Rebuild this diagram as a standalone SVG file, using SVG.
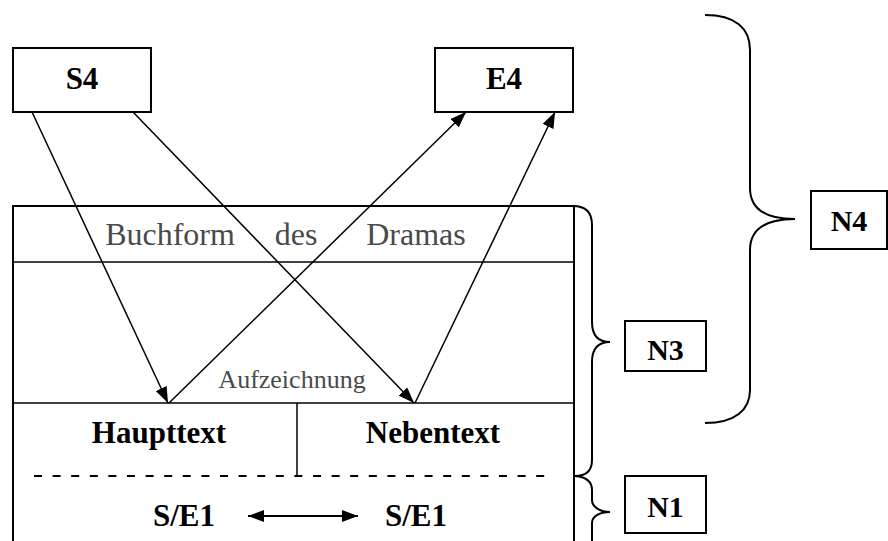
<svg xmlns="http://www.w3.org/2000/svg" width="888" height="541" viewBox="0 0 888 541">
  <style>
    .box { fill: #fff; stroke: #000; stroke-width: 2; }
    .rule { fill: none; stroke: #000; stroke-width: 2; }
    .thin { fill: none; stroke: #000; stroke-width: 1.5; }
    .brace { fill: none; stroke: #000; stroke-width: 2; }
    .edge { fill: none; stroke: #000; stroke-width: 1.5; }
    .bold { font-family: "Liberation Serif", "Times New Roman", serif; font-weight: bold; fill: #000; text-anchor: middle; }
    .plain { font-family: "Liberation Serif", "Times New Roman", serif; fill: #4a4a4a; text-anchor: middle; }
  </style>
  <defs>
    <marker id="head" viewBox="0 0 16 12" refX="16" refY="6" markerWidth="16" markerHeight="12" markerUnits="userSpaceOnUse" orient="auto-start-reverse">
      <path d="M0,0 L16,6 L0,12 Z" fill="#000"/>
    </marker>
  </defs>

  <rect width="888" height="541" fill="#fff"/>

  <!-- book form frame with its sections -->
  <g id="frame">
    <path class="rule" d="M13,541 L13,206 L574,206 L574,541"/>
    <line class="thin" x1="13" y1="262" x2="574" y2="262"/>
    <line class="thin" x1="13" y1="403" x2="574" y2="403"/>
    <line class="thin" x1="297" y1="403" x2="297" y2="476"/>
    <line x1="34" y1="476" x2="550" y2="476" stroke="#000" stroke-width="2" stroke-dasharray="8 10.6"/>
    <text class="plain" font-size="32" x="170" y="245">Buchform</text>
    <text class="plain" font-size="32" x="296" y="245">des</text>
    <text class="plain" font-size="32" x="416" y="245">Dramas</text>
    <text class="plain" font-size="26" x="292" y="388">Aufzeichnung</text>
  </g>

  <g id="haupttext">
    <text class="bold" font-size="31" x="159" y="443">Haupttext</text>
  </g>
  <g id="nebentext">
    <text class="bold" font-size="31" x="433" y="443">Nebentext</text>
  </g>

  <g id="se1-left">
    <text class="bold" font-size="31" x="184" y="526">S/E1</text>
  </g>
  <g id="se1-right">
    <text class="bold" font-size="31" x="416" y="526">S/E1</text>
  </g>

  <g id="s4">
    <rect class="box" x="13" y="48" width="138" height="64"/>
    <text class="bold" font-size="31" x="82" y="89">S4</text>
  </g>
  <g id="e4">
    <rect class="box" x="435" y="48" width="138" height="64"/>
    <text class="bold" font-size="31" x="504" y="89">E4</text>
  </g>

  <g id="n3">
    <rect class="box" x="625" y="321" width="81" height="50"/>
    <text class="bold" font-size="30" x="665.5" y="360">N3</text>
  </g>
  <g id="n1">
    <rect class="box" x="625" y="476" width="81" height="57"/>
    <text class="bold" font-size="30" x="665.5" y="517">N1</text>
  </g>
  <g id="n4">
    <rect class="box" x="811" y="191" width="76" height="58"/>
    <text class="bold" font-size="30" x="849" y="231">N4</text>
  </g>

  <!-- curly braces grouping the levels -->
  <g id="braces">
    <path class="brace" d="M573,206 C586,206 592,212 592,225 L592,322 C592,335 598,342 610,342 C598,342 592,349 592,362 L592,460 C592,471 586,476 575,476"/>
    <path class="brace" d="M575,476 C586,477 592,482 592,490 L592,500 C592,507 600,512 610,512 C600,512 592,516 592,523 L592,541"/>
    <path class="brace" d="M705,15 C735,15 750,28 750,50 L750,188 C750,208 765,219 795,219 C765,219 750,230 750,250 L750,390 C750,410 735,423 705,423"/>
  </g>

  <!-- communication arrows -->
  <g id="connectors">
    <line class="edge" x1="32" y1="112" x2="168" y2="403" marker-end="url(#head)"/>
    <line class="edge" x1="133" y1="112" x2="414" y2="403" marker-end="url(#head)"/>
    <line class="edge" x1="169" y1="403" x2="466" y2="112" marker-end="url(#head)"/>
    <line class="edge" x1="415" y1="403" x2="555" y2="112" marker-end="url(#head)"/>
    <line x1="248" y1="516" x2="358" y2="516" stroke="#000" stroke-width="2" marker-start="url(#head)" marker-end="url(#head)"/>
  </g>
</svg>
